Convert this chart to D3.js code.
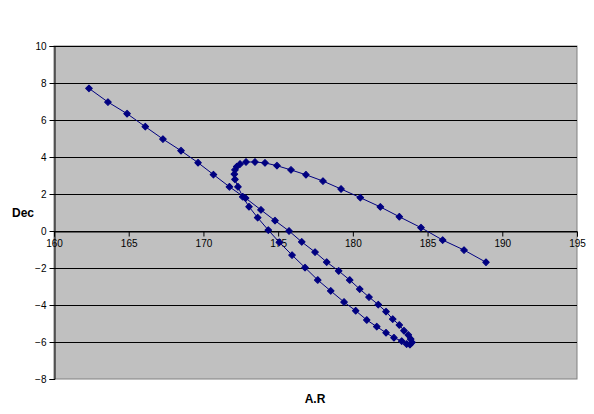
<!DOCTYPE html>
<html><head><meta charset="utf-8">
<script src="https://cdn.jsdelivr.net/npm/d3@7"></script>
<style>body{margin:0;background:#fff}svg{display:block}</style>
</head><body><svg id="c" width="594" height="414"></svg>
<script>
const raX = [162.34,163.61,164.89,166.11,167.29,168.50,169.64,170.67,171.74,172.82,173.85,174.79,175.73,176.58,177.47,178.25,179.05,179.79,180.46,181.08,181.70,182.22,182.67,183.11,183.42,183.71,183.87,183.96,183.82,183.60,183.27,182.75,182.22,181.60,180.93,180.19,179.41,178.52,177.65,176.80,175.93,175.08,174.34,173.63,173.05,172.63,172.31,172.11,172.07,172.11,172.23,172.45,172.85,173.45,174.12,174.92,175.86,176.86,178.00,179.21,180.50,181.84,183.11,184.56,186.01,187.44,188.91];
const decY = [7.71,6.97,6.34,5.64,4.97,4.34,3.69,3.05,2.39,1.78,1.14,0.56,0.00,-0.59,-1.14,-1.68,-2.16,-2.65,-3.14,-3.57,-3.98,-4.36,-4.76,-5.08,-5.39,-5.62,-5.84,-6.02,-6.14,-6.11,-5.95,-5.77,-5.50,-5.17,-4.81,-4.31,-3.84,-3.24,-2.65,-1.98,-1.30,-0.61,0.05,0.72,1.31,1.85,2.39,2.79,3.07,3.30,3.48,3.62,3.73,3.73,3.68,3.53,3.30,3.04,2.70,2.27,1.80,1.30,0.77,0.18,-0.49,-1.03,-1.69];
const xTicks = [160,165,170,175,180,185,190,195];
const yTicks = [-8,-6,-4,-2,0,2,4,6,8,10];
const xTitle = "A.R", yTitle = "Dec";

const svg = d3.select("#c");
const L=54, R=577, T=46, B=379;
const x = d3.scaleLinear().domain([160,195]).range([L,R]);
const y = d3.scaleLinear().domain([-8,10]).range([B,T]);
const font = "'Liberation Sans', Arial, sans-serif";

svg.append("rect").attr("x",L).attr("y",T).attr("width",R-L).attr("height",B-T)
  .attr("fill","#c0c0c0").attr("stroke","#808080").attr("stroke-width",1);

// gridlines
svg.append("g").selectAll("line").data(yTicks.filter(d=>d>-8)).join("line")
  .attr("x1",L).attr("x2",R).attr("y1",d=>Math.round(y(d))+0.5).attr("y2",d=>Math.round(y(d))+0.5)
  .attr("stroke","#000").attr("stroke-width",1);

// y axis
const ya = svg.append("g").attr("transform",`translate(${L+0.5},0)`)
  .call(d3.axisLeft(y).tickValues(yTicks).tickSize(5).tickPadding(3).tickFormat(d3.format("d")));
ya.select(".domain").attr("stroke","#000");
ya.selectAll("text").attr("font-family",font).attr("font-size",10).attr("fill","#000");

// x axis at y=0
const xa = svg.append("g").attr("transform",`translate(0,${Math.round(y(0))+0.5})`)
  .call(d3.axisBottom(x).tickValues(xTicks).tickSize(5).tickPadding(3).tickFormat(d3.format("d")));
xa.select(".domain").attr("stroke","#000");
xa.selectAll("text").attr("font-family",font).attr("font-size",10).attr("fill","#000");

const pts = raX.map((v,i)=>[v,decY[i]]);
svg.append("path").datum(pts)
  .attr("d", d3.line().x(d=>x(d[0])).y(d=>y(d[1])))
  .attr("fill","none").attr("stroke","#000080").attr("stroke-width",1);
svg.append("g").selectAll("path").data(pts).join("path")
  .attr("transform",d=>`translate(${x(d[0])},${y(d[1])}) rotate(45)`)
  .attr("d", d3.symbol(d3.symbolSquare, 22))
  .attr("fill","#000080").attr("stroke","#000080").attr("stroke-width",1).attr("stroke-linejoin","round");

svg.append("text").attr("x",23).attr("y",217).attr("text-anchor","middle")
  .attr("font-family",font).attr("font-size",12).attr("font-weight","bold").text(yTitle);
svg.append("text").attr("x",315).attr("y",403).attr("text-anchor","middle")
  .attr("font-family",font).attr("font-size",12).attr("font-weight","bold").text(xTitle);
</script></body></html>
